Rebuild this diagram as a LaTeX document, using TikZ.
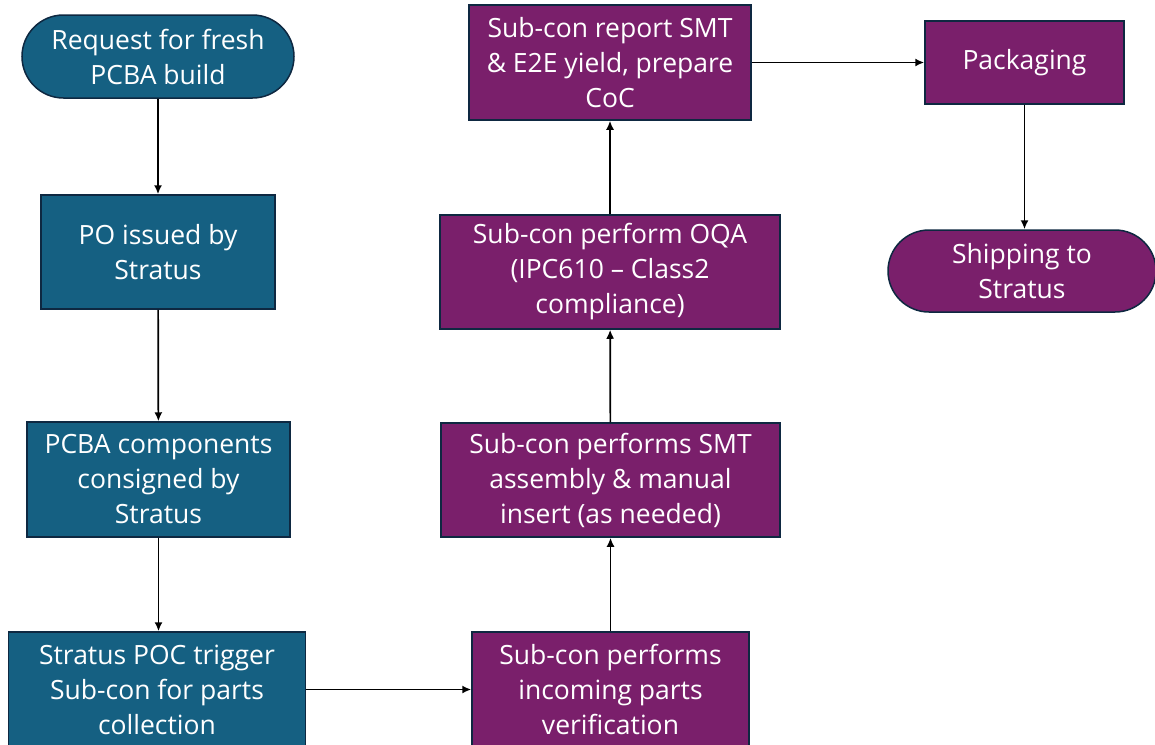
\documentclass[tikz,border=0pt]{standalone}
\usepackage{fontspec}
\setmainfont{Open Sans}
\usetikzlibrary{arrows.meta,shapes.misc}
\definecolor{bluebox}{HTML}{156082}
\definecolor{purplebox}{HTML}{7A1F6B}
\definecolor{edge}{HTML}{0E2841}
\begin{document}
\begin{tikzpicture}[x=1pt,y=-1pt,
  base/.style={draw=edge,line width=1.5pt,text=white,align=center,inner sep=0pt,
    font=\fontsize{26.5}{35}\selectfont},
  bbox/.style={base,fill=bluebox,rectangle},
  pbox/.style={base,fill=purplebox,rectangle},
  bterm/.style={base,fill=bluebox,rounded rectangle},
  pterm/.style={base,fill=purplebox,rounded rectangle},
  arr/.style={-{Latex[length=9pt,width=8pt]},line width=1.7pt,black}]
\clip (0,0) rectangle (1155,744);
\node[bterm,minimum width=272pt,minimum height=83pt] (req) at (158,56.5) {Request for fresh\\PCBA build};
\node[bbox,minimum width=234pt,minimum height=114pt] (po) at (158,252) {PO issued by\\Stratus};
\node[bbox,minimum width=263pt,minimum height=115pt] (comp) at (158.5,479.5) {PCBA components\\consigned by\\Stratus};
\node[bbox,minimum width=297pt,minimum height=115pt] (poc) at (157,689.5) {Stratus POC trigger\\Sub-con for parts\\collection};
\node[pbox,minimum width=277pt,minimum height=115pt] (inc) at (610.5,689.5) {Sub-con performs\\incoming parts\\verification};
\node[pbox,minimum width=339pt,minimum height=114pt] (smt) at (610.5,480) {Sub-con performs SMT\\assembly \& manual\\insert (as needed)};
\node[pbox,minimum width=340pt,minimum height=114pt] (oqa) at (610,272) {Sub-con perform OQA\\(IPC610 -- Class2\\compliance)};
\node[pbox,minimum width=282pt,minimum height=115pt] (rep) at (610,62.5) {Sub-con report SMT\\\& E2E yield, prepare\\CoC};
\node[pbox,minimum width=199pt,minimum height=83pt] (pack) at (1024.5,62.5) {Packaging};
\node[pterm,minimum width=268pt,minimum height=82pt] (ship) at (1022,271) {Shipping to\\Stratus};
\draw[arr] (req) -- (po);
\draw[arr] (po) -- (comp);
\draw[arr] (comp) -- (poc.north -| comp);
\draw[arr] (poc.east |- inc) -- (inc);
\draw[arr] (inc) -- (smt);
\draw[arr] (smt) -- (oqa);
\draw[arr] (oqa) -- (rep);
\draw[arr] (rep) -- (pack);
\draw[arr] (pack) -- (pack |- ship.north);
\end{tikzpicture}
\end{document}
